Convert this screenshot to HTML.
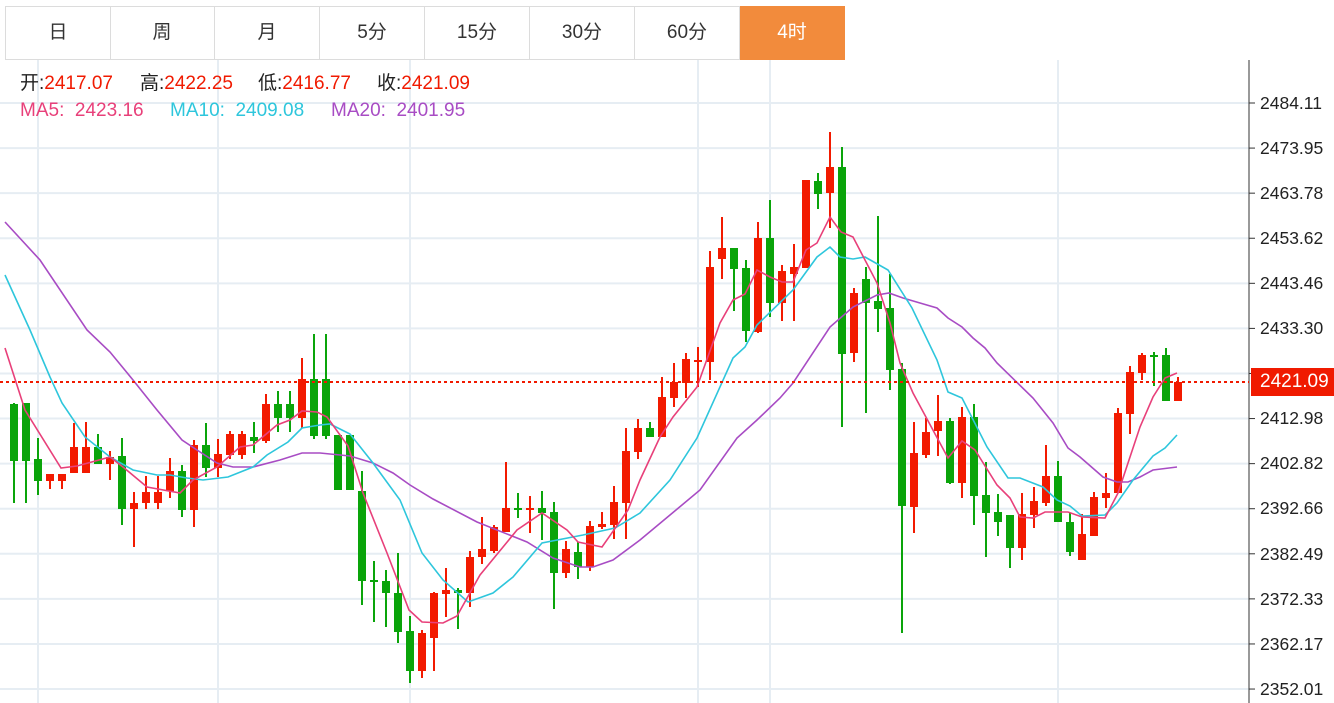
<!DOCTYPE html>
<html><head><meta charset="utf-8"><style>
body{margin:0;background:#fff;width:1334px;height:703px;overflow:hidden;font-family:"Liberation Sans","Noto Sans CJK SC",sans-serif;}
.tabs{position:absolute;left:5px;top:6px;height:54px;}
.tab{position:absolute;top:0;width:104px;height:52px;border:1px solid #dcdcdc;border-left:none;line-height:52px;text-align:center;font-size:19px;color:#333;}
.tab.first{border-left:1px solid #dcdcdc;}
.tab.act{background:#f28b3c;color:#fff;border-color:#f28b3c;}
.i{position:absolute;font-size:19px;white-space:pre;line-height:22px}
.r{color:#f01a00}
</style></head><body>
<svg id="c" width="1334" height="703" style="position:absolute;left:0;top:0"></svg>
<div class="tabs">
<div class="tab first" style="left:0">日</div>
<div class="tab" style="left:105px">周</div>
<div class="tab" style="left:210px">月</div>
<div class="tab" style="left:315px">5分</div>
<div class="tab" style="left:420px">15分</div>
<div class="tab" style="left:525px">30分</div>
<div class="tab" style="left:630px">60分</div>
<div class="tab act" style="left:735px">4时</div>
</div>
<div class="i" style="top:73px;left:20px;color:#222">开:<span class="r">2417.07</span></div>
<div class="i" style="top:73px;left:140px;color:#222">高:<span class="r">2422.25</span></div>
<div class="i" style="top:73px;left:258px;color:#222">低:<span class="r">2416.77</span></div>
<div class="i" style="top:73px;left:377px;color:#222">收:<span class="r">2421.09</span></div>
<div class="i" style="top:100px;left:20px;color:#e8407a">MA5:  2423.16</div>
<div class="i" style="top:100px;left:170px;color:#2ec6dc">MA10:  2409.08</div>
<div class="i" style="top:100px;left:331px;color:#a84cc4">MA20:  2401.95</div>
<div style="position:absolute;left:1260px;top:0;font-size:17.5px;color:#222;line-height:20px">
<div style="position:absolute;top:93px">2484.11</div>
<div style="position:absolute;top:138px">2473.95</div>
<div style="position:absolute;top:183px">2463.78</div>
<div style="position:absolute;top:228px">2453.62</div>
<div style="position:absolute;top:273px">2443.46</div>
<div style="position:absolute;top:318px">2433.30</div>
<div style="position:absolute;top:408px">2412.98</div>
<div style="position:absolute;top:453px">2402.82</div>
<div style="position:absolute;top:498px">2392.66</div>
<div style="position:absolute;top:544px">2382.49</div>
<div style="position:absolute;top:589px">2372.33</div>
<div style="position:absolute;top:634px">2362.17</div>
<div style="position:absolute;top:679px">2352.01</div>
</div>
<div style="position:absolute;left:1251px;top:368px;width:83px;height:28px;background:#f01a00;color:#fff;font-size:19px;line-height:28px;padding-left:9px;box-sizing:border-box">2421.09</div>
<script>
var s='';
for(var k=0;k<14;k++){var y=103+45.08*k;s+='<line x1="0" x2="1249" y1="'+y+'" y2="'+y+'" stroke="#e6edf3" stroke-width="2"/><line x1="1249" x2="1255" y1="'+y+'" y2="'+y+'" stroke="#333"/>';}
[38,218,410,698,770,1058].forEach(function(x){s+='<line x1="'+x+'" x2="'+x+'" y1="60" y2="703" stroke="#e6edf3" stroke-width="2"/>';});
s+='<line x1="1249" x2="1249" y1="60" y2="703" stroke="#333"/>';
var d=[
['g',404,461,403,503],['g',403,461,403,503],['g',459,481,438,495],['r',474,481,474,489],['r',474,481,474,489],
['r',447,473,423,473],['r',447,473,422,473],['g',447,464,434,464],['r',457,464,451,480],['g',456,509,438,525],
['r',503,509,492,547],['r',492,503,476,509],['r',492,503,476,509],['r',471,491,458,498],['g',471,510,465,517],
['r',445,510,440,527],['g',445,468,423,477],['r',454,468,439,477],['r',434,455,431,459],['r',434,455,431,459],
['g',437,441,422,453],['r',404,441,394,443],['g',404,418,391,432],['g',404,418,391,432],['r',379,418,358,428],
['g',379,436,334,439],['g',379,436,334,439],['g',435,490,435,490],['g',435,490,435,490],['g',491,581,471,605],
['g',580,582,561,622],['g',581,593,570,627],['g',593,632,553,643],['g',631,671,616,683],['r',633,671,630,678],
['r',593,638,592,671],['r',590,594,568,617],['g',590,593,588,629],['r',557,593,551,607],['r',549,557,517,564],
['r',527,551,525,553],['r',508,532,462,532],['g',508,510,493,518],['r',508,510,496,533],['g',508,513,491,540],
['g',512,573,502,609],['r',549,573,541,578],['g',552,567,542,579],['r',526,567,521,571],['r',524,527,512,529],
['r',502,525,486,539],['r',451,503,428,539],['r',428,452,419,459],['g',428,437,422,437],['r',397,437,377,437],
['r',382,398,363,407],['r',359,383,353,398],['r',360,362,347,387],['r',267,362,251,380],['r',248,259,217,279],
['g',248,269,248,311],['g',268,331,260,342],['r',238,332,222,333],['g',238,303,200,317],['r',271,303,265,321],
['r',267,274,244,321],['r',180,268,180,268],['g',181,194,173,209],['r',167,193,132,228],['g',167,354,147,427],
['r',293,353,288,362],['g',279,303,267,413],['g',301,309,216,332],['g',308,370,274,390],['g',369,506,363,633],
['r',453,507,422,533],['r',432,455,418,458],['r',421,431,395,456],['g',421,483,418,484],['r',417,483,407,498],
['g',417,496,404,525],['g',495,513,462,557],['g',512,522,494,536],['g',515,548,515,568],['r',514,548,493,560],
['r',501,515,487,528],['r',476,503,445,506],['g',476,522,461,522],['g',522,552,513,556],['r',534,560,514,560],
['r',497,536,492,536],['r',493,498,473,508],['r',413,493,408,493],['r',372,414,366,434],['r',355,373,353,380],
['g',355,357,352,386],['g',355,401,348,401],['r',382,401,377,401]];
d.forEach(function(c,i){var x=14+12*i,col=c[0]=='g'?'#0aa40a':'#f21a00';var h=Math.max(c[2]-c[1],2);
s+='<line x1="'+x+'" x2="'+x+'" y1="'+c[3]+'" y2="'+c[4]+'" stroke="'+col+'" stroke-width="2"/>';
s+='<rect x="'+(x-4)+'" y="'+c[1]+'" width="8" height="'+h+'" fill="'+col+'"/>';});
function pl(p,col){s+='<polyline fill="none" stroke="'+col+'" stroke-width="1.6" points="'+p+'"/>';}
pl('5,222 40,260 87,330 110,352 133,380 157,410 182,440 197,450 217,463 233,467 253,467 280,460 302,453 320,453 350,456 373,463 393,473 410,485 433,499 477,522 527,542 553,558 580,567 593,567 613,560 640,540 700,490 737,438 757,420 780,398 793,383 830,327 853,307 877,295 889,293 903,298 920,303 937,308 948,318 962,327 973,338 985,348 997,363 1033,398 1053,423 1068,448 1080,457 1103,477 1117,482 1128,482 1140,477 1153,470 1177,467','#a84cc4');
pl('5,275 30,330 50,377 62,403 85,437 110,457 133,470 157,475 170,475 187,478 203,480 228,477 253,467 267,455 288,442 302,428 320,425 330,424 350,434 373,463 400,500 422,553 443,580 468,602 493,593 513,577 542,543 583,535 615,528 640,513 670,480 697,438 733,358 745,347 757,325 793,290 817,257 830,247 840,257 853,259 865,257 888,270 912,308 937,360 948,392 962,398 987,447 1008,478 1020,478 1043,487 1057,500 1070,506 1082,516 1105,515 1117,503 1133,480 1153,456 1165,448 1177,435','#2ec6dc');
pl('5,348 25,410 61,468 77,466 110,457 123,467 147,487 180,493 193,480 217,467 240,447 253,445 277,425 290,420 302,411 317,412 327,417 348,446 363,493 387,553 409,610 422,622 443,623 457,616 480,575 517,530 542,513 567,530 578,542 602,547 628,510 640,480 660,437 673,417 697,387 720,323 733,300 745,294 757,270 770,277 782,282 793,282 806,250 817,243 830,217 841,232 853,237 877,283 890,323 900,363 913,393 948,458 962,441 975,450 997,485 1010,498 1020,517 1033,518 1045,512 1068,512 1082,517 1105,518 1118,493 1128,463 1140,427 1153,397 1165,378 1177,373','#e8407a');
s+='<line x1="0" x2="1249" y1="382" y2="382" stroke="#f01a00" stroke-width="2" stroke-dasharray="3,3"/>';
document.getElementById('c').innerHTML=s;
</script>
</body></html>
